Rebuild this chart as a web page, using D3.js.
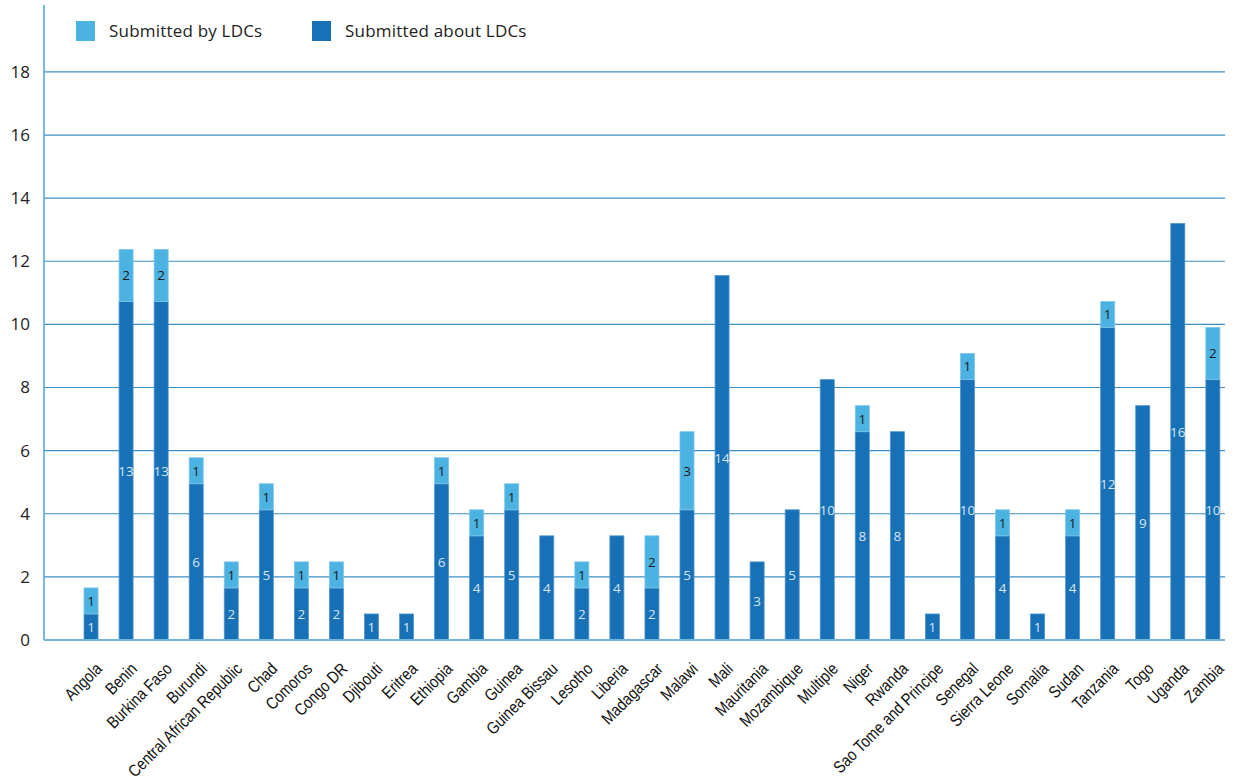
<!DOCTYPE html>
<html>
<head>
<meta charset="utf-8">
<script src="https://cdn.jsdelivr.net/npm/d3@7"></script>
<style>
  html, body { margin: 0; padding: 0; background: #fff; }
  svg { display: block; }
  .tick-label { font-family: "Open Sans", "Noto Sans", sans-serif; font-size: 17px; fill: #222; }
  .legend-text { font-family: "Open Sans", "Noto Sans", sans-serif; font-size: 17px; letter-spacing: 0.2px; fill: #222; }
  .cat-label { font-family: "Liberation Sans", Arial, sans-serif; font-size: 17px; fill: #111; }
  .val { font-family: "Open Sans", "Noto Sans", sans-serif; font-size: 13.5px; text-anchor: middle; }
</style>
</head>
<body>
<svg id="chart" width="1239" height="783"></svg>
<script>
// Submissions per country
const countries = ["Angola","Benin","Burkina Faso","Burundi","Central African Republic","Chad","Comoros","Congo DR","Djibouti","Eritrea","Ethiopia","Gambia","Guinea","Guinea Bissau","Lesotho","Liberia","Madagascar","Malawi","Mali","Mauritania","Mozambique","Multiple","Niger","Rwanda","Sao Tome and Principe","Senegal","Sierra Leone","Somalia","Sudan","Tanzania","Togo","Uganda","Zambia"];
const submittedAbout = [1,13,13,6,2,5,2,2,1,1,6,4,5,4,2,4,2,5,14,3,5,10,8,8,1,10,4,1,4,12,9,16,10];
const submittedBy    = [1,2,2,1,1,1,1,1,0,0,1,1,1,0,1,0,2,3,0,0,0,0,1,0,0,1,1,0,1,1,0,0,2];
const yTicks = [0,2,4,6,8,10,12,14,16,18];
const seriesNames = ["Submitted by LDCs","Submitted about LDCs"];

// the value axis is drawn in its own units; one submission spans 0.825 of them
const countToAxis = 0.825;

const colors = { by: "#4bb2e1", about: "#1870b6" };

const svg = d3.select("#chart");
const plotLeft = 44, plotRight = 1225, plotTop = 5, plotBottom = 640;

const y = d3.scaleLinear().domain([0, 20.12]).range([plotBottom, plotTop]);
const x = d3.scaleBand().domain(countries).range([73.5, 1230.4]).paddingInner(0.6).paddingOuter(0.3);

// gridlines
svg.append("g").selectAll("line")
  .data(yTicks.filter(t => t > 0))
  .join("line")
  .attr("x1", plotLeft).attr("x2", plotRight)
  .attr("y1", d => y(d)).attr("y2", d => y(d))
  .attr("stroke", "#3f8ec6").attr("stroke-width", 1.2);

// y axis labels
const yAxis = d3.axisLeft(y).tickValues(yTicks).tickSize(0).tickPadding(14);
const yg = svg.append("g").attr("transform", `translate(${plotLeft},0)`).call(yAxis);
yg.select(".domain").remove();
yg.selectAll("text").attr("class", "tick-label").attr("font-family", null).attr("font-size", null);

// bars
const rows = countries.map((c, i) => ({ c, about: submittedAbout[i], by: submittedBy[i] }));
const bars = svg.append("g");
rows.forEach(r => {
  const x0 = x(r.c), w = x.bandwidth(), cx = x0 + w / 2;
  const yAboutTop = y(r.about * countToAxis);
  const yByTop = y((r.about + r.by) * countToAxis);
  bars.append("rect").attr("x", x0).attr("width", w)
    .attr("y", yAboutTop).attr("height", y(0) - yAboutTop)
    .attr("fill", colors.about).attr("stroke", "#4f96cf").attr("stroke-width", 0.8);
  if (r.by > 0) {
    bars.append("rect").attr("x", x0).attr("width", w)
      .attr("y", yByTop).attr("height", yAboutTop - yByTop)
      .attr("fill", colors.by).attr("stroke", "#7cc6ea").attr("stroke-width", 0.8);
    bars.append("text").attr("class", "val").attr("x", cx)
      .attr("y", (yByTop + yAboutTop) / 2).attr("dy", "0.36em")
      .attr("fill", "#1b1b1b").text(r.by);
  }
  bars.append("text").attr("class", "val").attr("x", cx)
    .attr("y", (yAboutTop + y(0)) / 2).attr("dy", "0.36em")
    .attr("fill", "#d6e6f4").text(r.about);
});

// left axis line and baseline
svg.append("line").attr("x1", plotLeft).attr("x2", plotLeft)
  .attr("y1", plotTop).attr("y2", plotBottom)
  .attr("stroke", "#5aa6d8").attr("stroke-width", 1.6);
svg.append("line").attr("x1", plotLeft).attr("x2", plotRight)
  .attr("y1", y(0)).attr("y2", y(0))
  .attr("stroke", "#74b5dd").attr("stroke-width", 2);

// category labels, condensed along the reading direction
svg.append("g").selectAll("text")
  .data(countries)
  .join("text")
  .attr("class", "cat-label")
  .attr("text-anchor", "end")
  .attr("transform", d => `translate(${x(d) + x.bandwidth() / 2 + 12},${y(0) + 30}) rotate(-45) scale(0.84,1)`)
  .text(d => d);

// legend
const legend = svg.append("g");
const legendItems = [
  { name: seriesNames[0], color: colors.by, x: 76 },
  { name: seriesNames[1], color: colors.about, x: 312 }
];
legendItems.forEach(it => {
  legend.append("rect").attr("x", it.x).attr("y", 21).attr("width", 19).attr("height", 20).attr("fill", it.color);
  legend.append("text").attr("class", "legend-text").attr("x", it.x + 33).attr("y", 37).text(it.name);
});
</script>
</body>
</html>
